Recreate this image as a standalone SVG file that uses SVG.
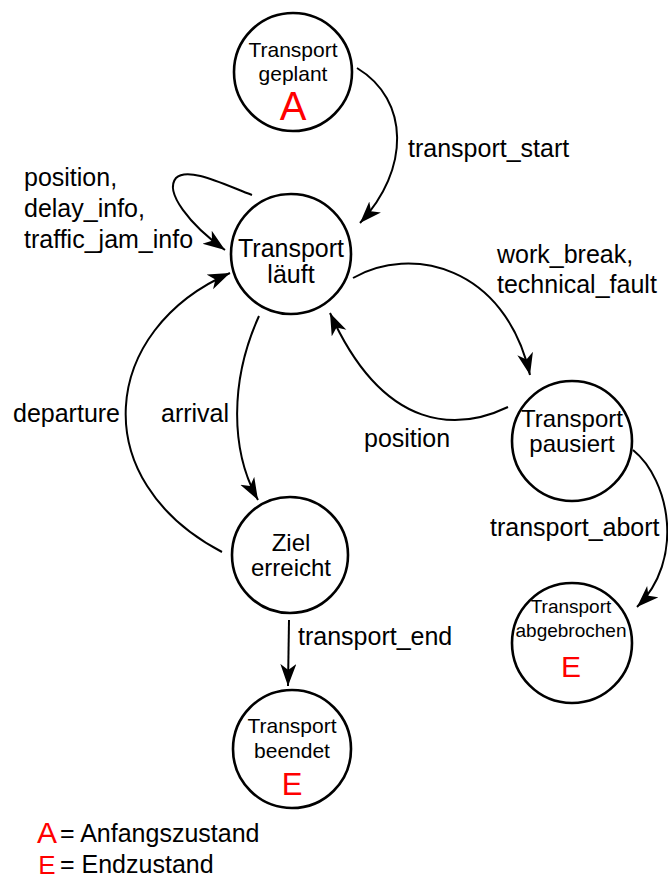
<svg xmlns="http://www.w3.org/2000/svg" width="668" height="880" viewBox="0 0 668 880">
<style>
.node{fill:#fff;stroke:#000;stroke-width:2.6}
.t{font-family:"Liberation Sans",Arial,sans-serif;fill:#000;text-anchor:middle}
.big{font-size:24px}
.red{font-family:"Liberation Sans",Arial,sans-serif;fill:#f00;text-anchor:middle}
.lbl{font-family:"Liberation Sans",Arial,sans-serif;font-size:25px;fill:#000}
.edge{fill:none;stroke:#000;stroke-width:2;marker-end:url(#arr)}
</style>
<defs>
<marker id="arr" markerUnits="userSpaceOnUse" markerWidth="24" markerHeight="18" refX="22" refY="8" orient="auto">
<path d="M0,0 L22,8 L0,16 L6,8 z" fill="#000"/>
</marker>
</defs>
<rect width="668" height="880" fill="#fff"/>
<g id="connectors">
<path class="edge" d="M357,68 C410,100 410,170 360,223"/>
<path class="edge" d="M252,195 C225,185 188,166 176,178 C164,192 190,225 225,250"/>
<path class="edge" d="M222,552 C85,480 100,330 230,273"/>
<path class="edge" d="M259,316 C230,380 230,450 258,500"/>
<path class="edge" d="M353,278 C410,245 505,265 530,375"/>
<path class="edge" d="M508,407 C460,430 385,435 330,313"/>
<path class="edge" d="M633,450 C670,480 685,560 637,607"/>
<path class="edge" d="M289,620 L288,686"/>
</g>
<g id="labels">
<text class="lbl" x="408" y="157">transport_start</text>
<text class="lbl" x="24" y="186">position,</text>
<text class="lbl" x="24" y="217">delay_info,</text>
<text class="lbl" x="24" y="248">traffic_jam_info</text>
<text class="lbl" x="497" y="263">work_break,</text>
<text class="lbl" x="497" y="293">technical_fault</text>
<text class="lbl" x="13" y="422">departure</text>
<text class="lbl" x="161" y="422">arrival</text>
<text class="lbl" x="364" y="447">position</text>
<text class="lbl" x="490" y="536">transport_abort</text>
<text class="lbl" x="298" y="645">transport_end</text>
</g>
<g id="n_geplant">
<circle class="node" cx="293" cy="72" r="59"/>
<text class="t" x="293" y="57" font-size="21">Transport</text>
<text class="t" x="293" y="81" font-size="21">geplant</text>
<text class="red" x="293" y="120" font-size="40">A</text>
</g>
<g id="n_laeuft">
<circle class="node" cx="291" cy="254" r="60"/>
<text class="t" x="291" y="257" font-size="25">Transport</text>
<text class="t" x="291" y="283" font-size="25">läuft</text>
</g>
<g id="n_pausiert">
<circle class="node" cx="572" cy="441" r="60"/>
<text class="t big" x="572" y="427">Transport</text>
<text class="t big" x="572" y="452">pausiert</text>
</g>
<g id="n_abgebrochen">
<circle class="node" cx="572" cy="643" r="60"/>
<text class="t" x="571" y="613" font-size="19">Transport</text>
<text class="t" x="571" y="637" font-size="19">abgebrochen</text>
<text class="red" x="571" y="677" font-size="30">E</text>
</g>
<g id="n_ziel">
<circle class="node" cx="290" cy="555" r="58"/>
<text class="t big" x="291" y="551">Ziel</text>
<text class="t big" x="291" y="576">erreicht</text>
</g>
<g id="n_beendet">
<circle class="node" cx="292" cy="749" r="59"/>
<text class="t" x="292" y="733" font-size="21">Transport</text>
<text class="t" x="292" y="758" font-size="21">beendet</text>
<text class="red" x="292" y="795" font-size="31">E</text>
</g>
<g id="legend">
<text class="red" x="47" y="843" font-size="30">A</text>
<text class="lbl" x="60" y="842" font-size="21">= Anfangszustand</text>
<text class="red" x="47" y="874" font-size="26">E</text>
<text class="lbl" x="60" y="873" font-size="21">= Endzustand</text>
</g>
</svg>
